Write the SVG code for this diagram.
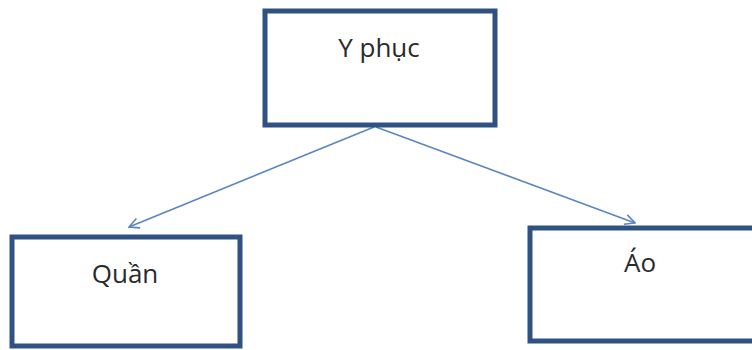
<svg xmlns="http://www.w3.org/2000/svg" width="752" height="350" viewBox="0 0 752 350">
<style>
.box{fill:#fff;stroke:#2f5283;stroke-width:5}
.lbl{font-family:"Open Sans","Liberation Sans",sans-serif;font-size:26px;fill:#2a2a2a;text-anchor:middle}
.conn{stroke:#5b86c0;stroke-width:1.6;fill:none}
</style>
<defs>
<marker id="arr" viewBox="0 0 12 12" refX="11" refY="6" markerWidth="12" markerHeight="12" markerUnits="userSpaceOnUse" orient="auto">
<path d="M1,1 L11,6 L1,11" fill="none" stroke="#5b86c0" stroke-width="1.6"/>
</marker>
</defs>
<rect width="752" height="350" fill="#fff"/>
<g id="connectors">
<line class="conn" x1="374" y1="127" x2="129" y2="227" marker-end="url(#arr)"/>
<line class="conn" x1="376" y1="127" x2="635" y2="223" marker-end="url(#arr)"/>
</g>
<g id="node-yphuc">
<rect class="box" x="265" y="11" width="230" height="114"/>
<text class="lbl" x="379" y="57">Y phục</text>
</g>
<g id="node-quan">
<rect class="box" x="12" y="237" width="228" height="109"/>
<text class="lbl" x="125" y="283">Quần</text>
</g>
<g id="node-ao">
<rect class="box" x="530" y="228" width="226" height="113"/>
<text class="lbl" x="640" y="272">Áo</text>
</g>
</svg>
